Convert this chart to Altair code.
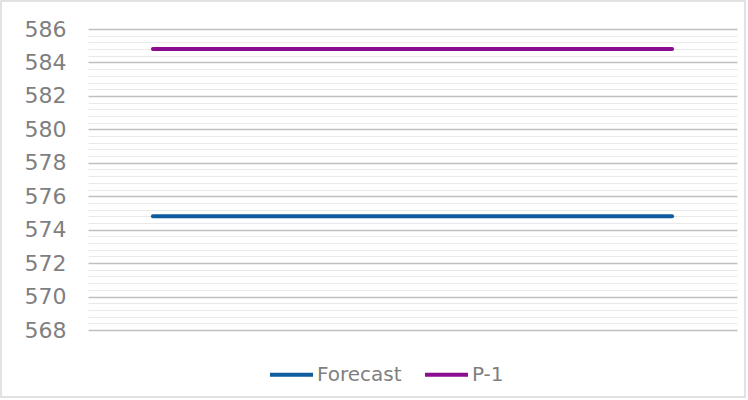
import altair as alt
import pandas as pd

categories = ["1", "2", "3", "4", "5"]
forecast = [574.8, 574.8, 574.8, 574.8, 574.8]
p1 = [584.8, 584.8, 584.8, 584.8, 584.8]
series_names = ["Forecast", "P-1"]
colors = ["#0F5C9E", "#8C0E90"]
y_ticks = [round(568 + 0.4 * k, 1) for k in range(46)]

rows = []
for c, v in zip(categories, forecast):
    rows.append({"cat": c, "value": v, "series": "Forecast"})
for c, v in zip(categories, p1):
    rows.append({"cat": c, "value": v, "series": "P-1"})
df = pd.DataFrame(rows)

FONT = "DejaVu Sans"

border = alt.Chart(pd.DataFrame({"a": [0]})).mark_rect(
    filled=False, stroke="#d9d9d9", strokeWidth=1.5
).encode(
    x=alt.value(-87), x2=alt.value(657), y=alt.value(-28), y2=alt.value(368)
)

lines = alt.Chart(df).mark_line(strokeWidth=4, strokeCap="round").encode(
    x=alt.X("cat:O", sort=categories, axis=None,
            scale=alt.Scale(type="point", padding=0.5)),
    y=alt.Y("value:Q",
            scale=alt.Scale(domain=[568, 586], nice=False, zero=False),
            axis=alt.Axis(
                title=None, values=y_ticks, domain=False, ticks=False,
                format=".0f",
                labelExpr="abs(datum.value - round(datum.value/2)*2) < 0.01 ? datum.label : ''",
                labelFontSize=22, labelColor="#7f7f7f", labelFont=FONT,
                labelPadding=22,
                gridColor={"expr": "abs(datum.value - round(datum.value/2)*2) < 0.01 ? '#bfbfbf' : '#e9e9e9'"},
                gridWidth={"expr": "abs(datum.value - round(datum.value/2)*2) < 0.01 ? 1.5 : 1.2"},
            )),
    color=alt.Color("series:N", sort=series_names,
                    scale=alt.Scale(domain=series_names, range=colors),
                    legend=alt.Legend(
                        title=None, orient="none", direction="horizontal",
                        legendX=180, legendY=322,
                        symbolType="stroke", symbolSize=1849, symbolStrokeWidth=4,
                        labelFontSize=20, labelColor="#7f7f7f", labelFont=FONT,
                        labelOffset=2,
                    )),
)

chart = alt.layer(border, lines).properties(
    width=649, height=301,
    autosize=alt.AutoSizeParams(type="none"),
    padding={"left": 88, "top": 29, "right": 11, "bottom": 70},
).configure_view(stroke=None).configure_legend(columnPadding=15)

chart.save("out.html", embed_options={"renderer": "svg", "actions": False})
